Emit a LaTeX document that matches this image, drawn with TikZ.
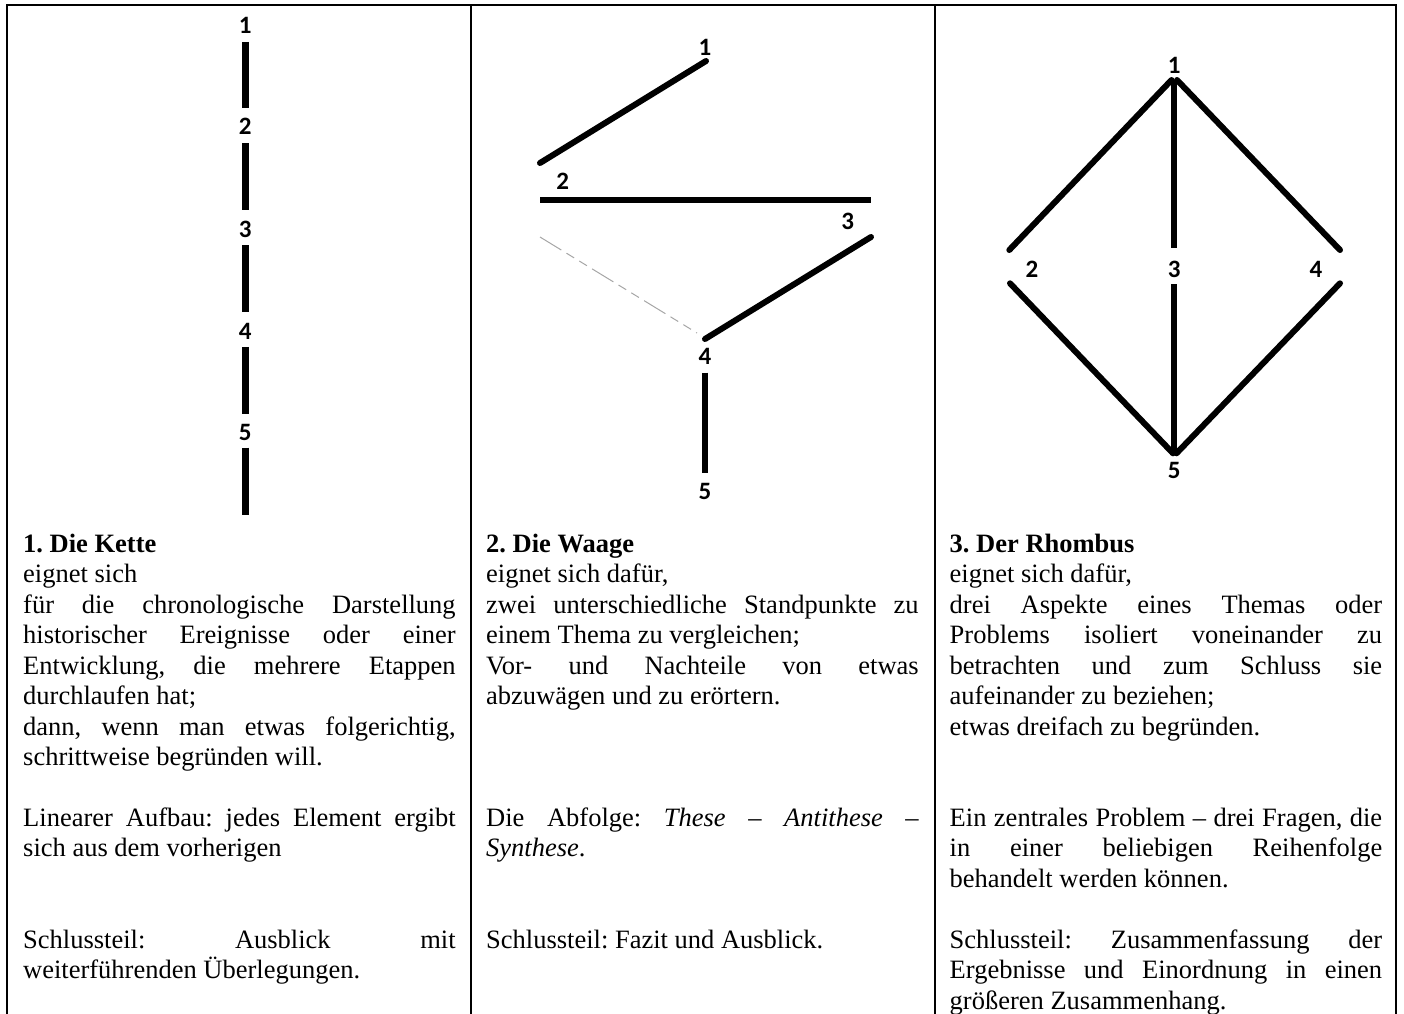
\documentclass[tikz,border=0pt]{standalone}
\usepackage{fontspec}
\setmainfont{Liberation Serif}
\newfontfamily\digitfont{Carlito}
\newcommand\J[1]{\makebox[432.5pt][s]{#1}}
\frenchspacing
\begin{document}
\begin{tikzpicture}[x=1pt,y=-1pt,
  frame/.style={line width=2pt,line cap=rect},
  num/.style={font=\digitfont\bfseries\fontsize{25}{25}\selectfont,inner sep=0pt},
  txt/.style={font=\fontsize{26.5}{30.45}\selectfont,inner sep=0pt,anchor=base west},
  chainbar/.style={line width=7pt,line cap=butt},
  flatbar/.style={line width=6pt,line cap=butt},
  roundbar/.style={line width=6pt,line cap=round},
  helpline/.style={line width=1pt,gray!70,dash pattern=on 25pt off 6pt on 9pt off 6pt on 9pt off 6pt}
]
\useasboundingbox (0,0) rectangle (1404,1013);
\clip (0,0) rectangle (1404,1013);

% table frame
\coordinate (tl) at (7.3,5);
\coordinate (tr) at (1396.3,5);
\coordinate (bl) at (7.3,1020);
\coordinate (br) at (1396.3,1020);
\coordinate (s1t) at (471,5);
\coordinate (s1b) at (471,1020);
\coordinate (s2t) at (935,5);
\coordinate (s2b) at (935,1020);
\draw[frame] (bl) -- (tl) -- (tr) -- (br);
\draw[frame] (s1t) -- (s1b);
\draw[frame] (s2t) -- (s2b);

% ---- 1. Die Kette ----
\node[num] (k1) at (245.3,25.5) {1};
\node[num] (k2) at (245.3,126.7) {2};
\node[num] (k3) at (245.3,229) {3};
\node[num] (k4) at (245.3,331) {4};
\node[num] (k5) at (245.3,432.6) {5};
\coordinate (kend) at (245.3,515);
\draw[chainbar,shorten <=8pt,shorten >=10.5pt] (k1) -- (k2);
\draw[chainbar,shorten <=8pt,shorten >=10.5pt] (k2) -- (k3);
\draw[chainbar,shorten <=8pt,shorten >=10.5pt] (k3) -- (k4);
\draw[chainbar,shorten <=7.5pt,shorten >=10.5pt] (k4) -- (k5);
\draw[chainbar,shorten <=6.5pt] (k5.south) -- (kend);

% ---- 2. Die Waage ----
\node[num] (w1) at (705,47) {1};
\node[num] (w2) at (562.7,181.7) {2};
\node[num] (w3) at (847.7,221.7) {3};
\node[num] (w4) at (705,356.7) {4};
\node[num] (w5) at (705,491.7) {5};
\coordinate (wa) at (706,61);
\coordinate (wb) at (540,163);
\coordinate (wc) at (540,200);
\coordinate (wd) at (871,200);
\coordinate (we) at (871,237);
\coordinate (wf) at (705,339);
\coordinate (wg) at (540,237);
\coordinate (wh) at (697,333);
\draw[roundbar] (wa) -- (wb);
\draw[flatbar] (wc) -- (wd);
\draw[roundbar] (we) -- (wf);
\draw[helpline] (wg) -- (wh);
\draw[flatbar,shorten <=7.5pt,shorten >=10.5pt] (w4) -- (w5);

% ---- 3. Der Rhombus ----
\node[num] (r1) at (1174.3,65) {1};
\node[num] (r2) at (1032,269.3) {2};
\node[num] (r3) at (1174.3,269.3) {3};
\node[num] (r4) at (1316,269.3) {4};
\node[num] (r5) at (1174.3,470) {5};
\coordinate (rtl) at (1171.5,80);
\coordinate (rtr) at (1177,80);
\coordinate (r2a) at (1009.3,250);
\coordinate (r2b) at (1010,283.3);
\coordinate (r4a) at (1340,250);
\coordinate (r4b) at (1340,283.3);
\coordinate (rbl) at (1173,453.3);
\coordinate (rbr) at (1176.5,453.3);
\draw[roundbar] (rtl) -- (r2a);
\draw[roundbar] (rtr) -- (r4a);
\draw[roundbar] (r2b) -- (rbl);
\draw[roundbar] (r4b) -- (rbr);
\draw[flatbar,shorten <=7pt,shorten >=12.5pt] (r1) -- (r3);
\draw[flatbar,shorten <=6.5pt,shorten >=9pt] (r3) -- (r5);

% ---- texts column 1 ----
\node[txt] (a0) at (23,552.3) {\textbf{1. Die Kette}};
\node[txt] (a1) at (23,582.8) {eignet sich};
\node[txt] (a2) at (23,613.2) {\J{für die chronologische Darstellung}};
\node[txt] (a3) at (23,643.7) {\J{historischer Ereignisse oder einer}};
\node[txt] (a4) at (23,674.1) {\J{Entwicklung, die mehrere Etappen}};
\node[txt] (a5) at (23,704.6) {durchlaufen hat;};
\node[txt] (a6) at (23,735.0) {\J{dann, wenn man etwas folgerichtig,}};
\node[txt] (a7) at (23,765.5) {schrittweise begründen will.};
\node[txt] (a9) at (23,826.4) {\J{Linearer Aufbau: jedes Element ergibt}};
\node[txt] (a10) at (23,856.9) {sich aus dem vorherigen};
\node[txt] (a13) at (23,948.2) {\J{Schlussteil: Ausblick mit}};
\node[txt] (a14) at (23,978.7) {weiterführenden Überlegungen.};

% ---- texts column 2 ----
\node[txt] (b0) at (486,552.3) {\textbf{2. Die Waage}};
\node[txt] (b1) at (486,582.8) {eignet sich dafür,};
\node[txt] (b2) at (486,613.2) {\J{zwei unterschiedliche Standpunkte zu}};
\node[txt] (b3) at (486,643.7) {einem Thema zu vergleichen;};
\node[txt] (b4) at (486,674.1) {\J{Vor- und Nachteile von etwas}};
\node[txt] (b5) at (486,704.6) {abzuwägen und zu erörtern.};
\node[txt] (b9) at (486,826.4) {\J{Die Abfolge: \textit{These} – \textit{Antithese} –}};
\node[txt] (b10) at (486,856.9) {\textit{Synthese}.};
\node[txt] (b13) at (486,948.2) {Schlussteil: Fazit und Ausblick.};

% ---- texts column 3 ----
\node[txt] (c0) at (949.5,552.3) {\textbf{3. Der Rhombus}};
\node[txt] (c1) at (949.5,582.8) {eignet sich dafür,};
\node[txt] (c2) at (949.5,613.2) {\J{drei Aspekte eines Themas oder}};
\node[txt] (c3) at (949.5,643.7) {\J{Problems isoliert voneinander zu}};
\node[txt] (c4) at (949.5,674.1) {\J{betrachten und zum Schluss sie}};
\node[txt] (c5) at (949.5,704.6) {aufeinander zu beziehen;};
\node[txt] (c6) at (949.5,735.0) {etwas dreifach zu begründen.};
\node[txt] (c9) at (949.5,826.4) {\J{Ein zentrales Problem – drei Fragen, die}};
\node[txt] (c10) at (949.5,856.9) {\J{in einer beliebigen Reihenfolge}};
\node[txt] (c11) at (949.5,887.3) {behandelt werden können.};
\node[txt] (c13) at (949.5,948.2) {\J{Schlussteil: Zusammenfassung der}};
\node[txt] (c14) at (949.5,978.7) {\J{Ergebnisse und Einordnung in einen}};
\node[txt] (c15) at (949.5,1009.1) {größeren Zusammenhang.};
\end{tikzpicture}
\end{document}
